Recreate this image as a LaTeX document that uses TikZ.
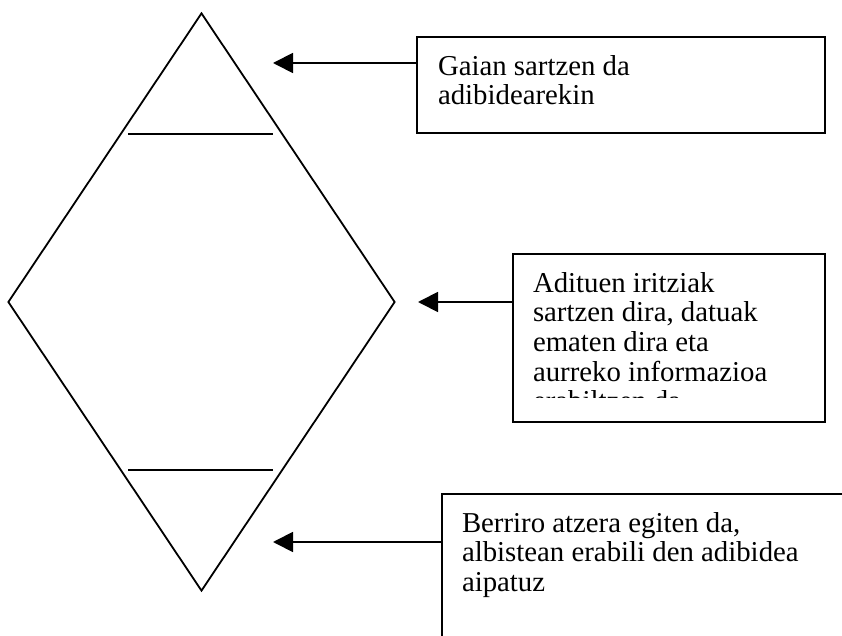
\documentclass[tikz,border=0pt]{standalone}
\usepackage{fontspec}
\setmainfont{Liberation Serif}
\usetikzlibrary{shapes,arrows.meta,positioning,calc}

\begin{document}
\begin{tikzpicture}[
  x=0.5pt, y=-0.5pt,
  line width=0.9pt,
  frame/.style={rectangle, draw, inner sep=0pt, outer sep=0pt, anchor=north west},
  boxtext/.style={inner sep=0pt, outer sep=0pt, align=left, font=\fontsize{14.4}{14.8}\selectfont},
  arrow/.style={-{Triangle[length=10pt, width=10pt]}}
]
  \useasboundingbox (0,0) rectangle (842,636);
  \clip (0,0) rectangle (842,636);

  % diamond with its two cross lines
  \node[diamond, draw, inner sep=0pt, minimum width=193.5pt, minimum height=289pt] (rhombus) at (201.5,302) {};
  \draw (128,134) -- (273,134);
  \draw (128,470) -- (273,470);

  % boxes
  \node[frame, minimum width=204pt, minimum height=48pt] (box1) at (417,37) {};
  \node[boxtext, below right=9.15pt and 10.5pt of box1.north west] (text1) {Gaian sartzen da\\adibidearekin};

  \node[frame, minimum width=156pt, minimum height=84pt] (box2) at (513,254) {};
  \begin{scope}
    \clip (box2.north west) rectangle ([yshift=12pt]box2.south east);
    \node[boxtext, below right=9.15pt and 10pt of box2.north west] (text2) {Adituen iritziak\\sartzen dira, datuak\\ematen dira eta\\aurreko informazioa\\erabiltzen da};
  \end{scope}

  \node[frame, draw=none, minimum width=220pt, minimum height=80pt] (box3) at (442,494) {};
  \draw (box3.south west) -- (box3.north west) -- (box3.north east);
  \node[boxtext, below right=9.15pt and 10pt of box3.north west] (text3) {Berriro atzera egiten da,\\albistean erabili den adibidea\\aipatuz};

  % arrows
  \coordinate (tip1) at (273,63);
  \coordinate (tip2) at (418,302);
  \coordinate (tip3) at (273,542);
  \draw[arrow] (box1.west |- tip1) -- (tip1);
  \draw[arrow] (box2.west |- tip2) -- (tip2);
  \draw[arrow] (box3.west |- tip3) -- (tip3);
\end{tikzpicture}
\end{document}
